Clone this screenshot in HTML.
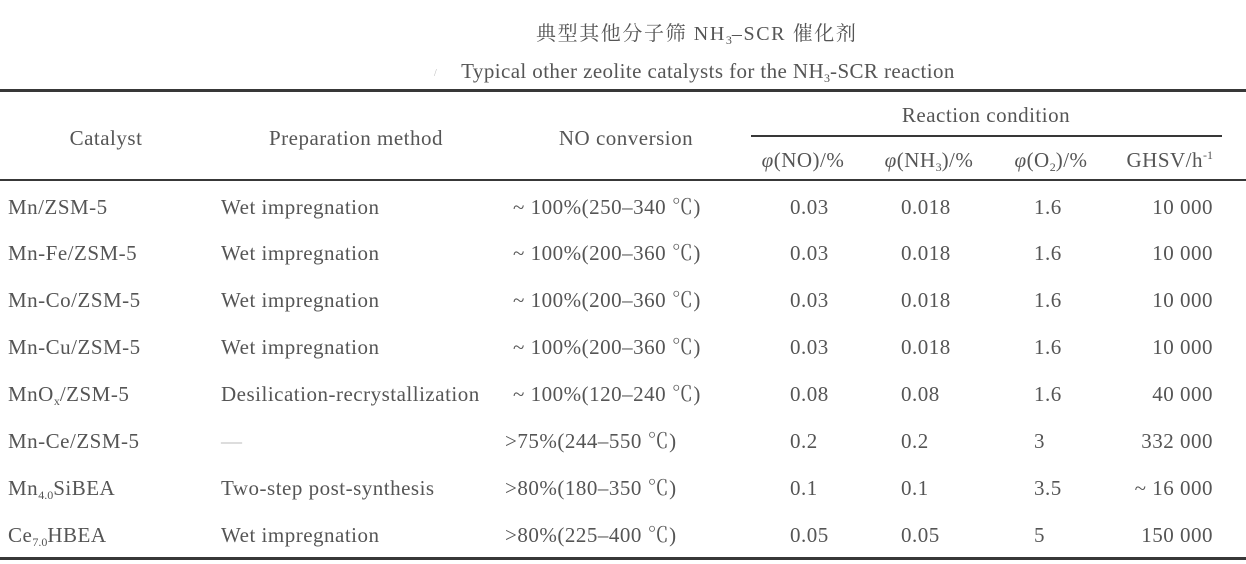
<!DOCTYPE html>
<html><head><meta charset="utf-8">
<style>
html,body{margin:0;padding:0;background:#fff;}
body{width:1246px;height:564px;position:relative;overflow:hidden;font-family:"Liberation Serif","Noto Serif CJK SC",serif;color:#555;}
.t{position:absolute;white-space:nowrap;font-size:21px;line-height:20px;letter-spacing:0.5px;}
.c{text-align:center;width:300px;}
.r{text-align:right;width:200px;}
.ln{position:absolute;left:0;width:1246px;background:#383838;}
sub{font-size:12px;vertical-align:-4px;line-height:0;letter-spacing:0;}
sup{font-size:12px;vertical-align:8px;line-height:0;letter-spacing:0;}
i{font-style:italic;}
</style></head><body>

<div class="t c" style="left:536px;top:24px;width:300px;font-size:20px;letter-spacing:1.6px;">典型其他分子筛 NH<sub>3</sub>–SCR 催化剂</div>
<div class="t" style="left:434px;top:64px;font-size:10px;color:#bbb;">/</div>
<div class="t c" style="left:458px;top:61px;width:500px;letter-spacing:0.4px;">Typical other zeolite catalysts for the NH<sub>3</sub>-SCR reaction</div>

<div class="ln" style="top:89px;height:2.5px;"></div>
<div class="ln" style="top:135px;height:1.5px;left:751px;width:471px;"></div>
<div class="ln" style="top:179px;height:2px;"></div>
<div class="ln" style="top:557px;height:2.5px;"></div>

<!-- headers -->
<div class="t c" style="left:-44px;top:128px;">Catalyst</div>
<div class="t c" style="left:206px;top:128px;">Preparation method</div>
<div class="t c" style="left:476px;top:128px;">NO conversion</div>
<div class="t c" style="left:836px;top:105px;">Reaction condition</div>
<div class="t c" style="left:653px;top:150px;"><i>φ</i>(NO)/%</div>
<div class="t c" style="left:779px;top:150px;"><i>φ</i>(NH<sub>3</sub>)/%</div>
<div class="t c" style="left:901px;top:150px;"><i>φ</i>(O<sub>2</sub>)/%</div>
<div class="t r" style="left:1013px;top:150px;">GHSV/h<sup>-1</sup></div>

<!-- rows -->
<div class="t" style="left:8px;top:197px;">Mn/ZSM-5</div>
<div class="t" style="left:221px;top:197px;">Wet impregnation</div>
<div class="t" style="left:513px;top:197px;">~ 100%(250–340 ℃)</div>
<div class="t" style="left:790px;top:197px;">0.03</div>
<div class="t" style="left:901px;top:197px;">0.018</div>
<div class="t" style="left:1034px;top:197px;">1.6</div>
<div class="t r" style="left:1013px;top:197px;">10 000</div>

<div class="t" style="left:8px;top:243px;">Mn-Fe/ZSM-5</div>
<div class="t" style="left:221px;top:243px;">Wet impregnation</div>
<div class="t" style="left:513px;top:243px;">~ 100%(200–360 ℃)</div>
<div class="t" style="left:790px;top:243px;">0.03</div>
<div class="t" style="left:901px;top:243px;">0.018</div>
<div class="t" style="left:1034px;top:243px;">1.6</div>
<div class="t r" style="left:1013px;top:243px;">10 000</div>

<div class="t" style="left:8px;top:290px;">Mn-Co/ZSM-5</div>
<div class="t" style="left:221px;top:290px;">Wet impregnation</div>
<div class="t" style="left:513px;top:290px;">~ 100%(200–360 ℃)</div>
<div class="t" style="left:790px;top:290px;">0.03</div>
<div class="t" style="left:901px;top:290px;">0.018</div>
<div class="t" style="left:1034px;top:290px;">1.6</div>
<div class="t r" style="left:1013px;top:290px;">10 000</div>

<div class="t" style="left:8px;top:337px;">Mn-Cu/ZSM-5</div>
<div class="t" style="left:221px;top:337px;">Wet impregnation</div>
<div class="t" style="left:513px;top:337px;">~ 100%(200–360 ℃)</div>
<div class="t" style="left:790px;top:337px;">0.03</div>
<div class="t" style="left:901px;top:337px;">0.018</div>
<div class="t" style="left:1034px;top:337px;">1.6</div>
<div class="t r" style="left:1013px;top:337px;">10 000</div>

<div class="t" style="left:8px;top:384px;">MnO<sub>x</sub>/ZSM-5</div>
<div class="t" style="left:221px;top:384px;">Desilication-recrystallization</div>
<div class="t" style="left:513px;top:384px;">~ 100%(120–240 ℃)</div>
<div class="t" style="left:790px;top:384px;">0.08</div>
<div class="t" style="left:901px;top:384px;">0.08</div>
<div class="t" style="left:1034px;top:384px;">1.6</div>
<div class="t r" style="left:1013px;top:384px;">40 000</div>

<div class="t" style="left:8px;top:431px;">Mn-Ce/ZSM-5</div>
<div class="t" style="left:221px;top:431px;color:#bbb;">—</div>
<div class="t" style="left:505px;top:431px;">&gt;75%(244–550 ℃)</div>
<div class="t" style="left:790px;top:431px;">0.2</div>
<div class="t" style="left:901px;top:431px;">0.2</div>
<div class="t" style="left:1034px;top:431px;">3</div>
<div class="t r" style="left:1013px;top:431px;">332 000</div>

<div class="t" style="left:8px;top:478px;">Mn<sub>4.0</sub>SiBEA</div>
<div class="t" style="left:221px;top:478px;">Two-step post-synthesis</div>
<div class="t" style="left:505px;top:478px;">&gt;80%(180–350 ℃)</div>
<div class="t" style="left:790px;top:478px;">0.1</div>
<div class="t" style="left:901px;top:478px;">0.1</div>
<div class="t" style="left:1034px;top:478px;">3.5</div>
<div class="t r" style="left:1013px;top:478px;">~ 16 000</div>

<div class="t" style="left:8px;top:525px;">Ce<sub>7.0</sub>HBEA</div>
<div class="t" style="left:221px;top:525px;">Wet impregnation</div>
<div class="t" style="left:505px;top:525px;">&gt;80%(225–400 ℃)</div>
<div class="t" style="left:790px;top:525px;">0.05</div>
<div class="t" style="left:901px;top:525px;">0.05</div>
<div class="t" style="left:1034px;top:525px;">5</div>
<div class="t r" style="left:1013px;top:525px;">150 000</div>

</body></html>
